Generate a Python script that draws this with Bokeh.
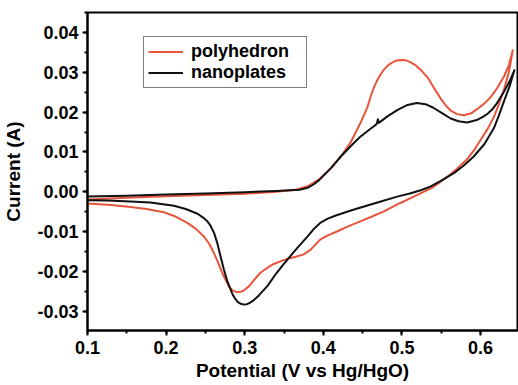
from bokeh.plotting import figure
from bokeh.models import Range1d, SingleIntervalTicker, NumeralTickFormatter, Legend, LegendItem
from bokeh.embed import file_html
from bokeh.resources import INLINE

# ---- data ----
# polyhedron: anodic (forward) branch
poly_fwd_x = [0.100, 0.150, 0.200, 0.250, 0.300, 0.340, 0.365, 0.380, 0.395, 0.410, 0.422, 0.435,
              0.447, 0.456, 0.460, 0.464, 0.468, 0.472, 0.476, 0.481, 0.485, 0.490, 0.495, 0.500,
              0.505, 0.510, 0.517, 0.524, 0.533, 0.541, 0.550, 0.556, 0.562, 0.570, 0.579, 0.588,
              0.596, 0.605, 0.613, 0.621, 0.630, 0.636, 0.641]
poly_fwd_y = [-0.0019, -0.0015, -0.0011, -0.0008, -0.0005, 0.0000, 0.0005, 0.0014, 0.0032, 0.0060,
              0.0088, 0.0125, 0.0172, 0.0212, 0.0238, 0.0260, 0.0278, 0.0292, 0.0304, 0.0315,
              0.0321, 0.0327, 0.0330, 0.0331, 0.0330, 0.0326, 0.0318, 0.0306, 0.0286, 0.0260,
              0.0232, 0.0216, 0.0204, 0.0195, 0.0192, 0.0197, 0.0208, 0.0222, 0.0238, 0.0260,
              0.0290, 0.0318, 0.0355]
# polyhedron: cathodic (return) branch
poly_rev_x = [0.641, 0.636, 0.630, 0.623, 0.617, 0.609, 0.600, 0.592, 0.583, 0.570, 0.558, 0.540,
              0.515, 0.498, 0.477, 0.462, 0.447, 0.430, 0.418, 0.405, 0.396, 0.390, 0.384, 0.375,
              0.365, 0.355, 0.346, 0.337, 0.330, 0.320, 0.312, 0.306, 0.300, 0.295, 0.2905,
              0.285, 0.280, 0.276, 0.2713, 0.266, 0.2607, 0.255, 0.248, 0.238, 0.227, 0.212,
              0.197, 0.175, 0.155, 0.130, 0.100]
poly_rev_y = [0.0355, 0.0300, 0.0258, 0.0218, 0.0188, 0.0158, 0.0130, 0.0105, 0.0082, 0.0058,
              0.0038, 0.0012, -0.0012, -0.0028, -0.0049, -0.0062, -0.0074, -0.0088, -0.0099,
              -0.0110, -0.0120, -0.0132, -0.0145, -0.0157, -0.0163, -0.0168, -0.0174, -0.0181,
              -0.0189, -0.0203, -0.0221, -0.0236, -0.0246, -0.0251, -0.0252, -0.0248, -0.0238,
              -0.0222, -0.0203, -0.0177, -0.0153, -0.0131, -0.0112, -0.0093, -0.0078, -0.0062,
              -0.0051, -0.0043, -0.0038, -0.0033, -0.0029]

# nanoplates: anodic (forward) branch
nano_fwd_x = [0.100, 0.150, 0.200, 0.250, 0.300, 0.340, 0.370, 0.380, 0.388, 0.395, 0.402, 0.410,
              0.422, 0.435, 0.447, 0.458, 0.466, 0.468, 0.4695, 0.4705, 0.474, 0.482, 0.494,
              0.507, 0.519, 0.530, 0.540, 0.552, 0.562, 0.572, 0.583, 0.595, 0.603, 0.609, 0.615,
              0.620, 0.630, 0.637, 0.643]
nano_fwd_y = [-0.0012, -0.0010, -0.0007, -0.0004, -0.0001, 0.0002, 0.0005, 0.0010, 0.0019, 0.0030,
              0.0044, 0.0060, 0.0088, 0.0115, 0.0138, 0.0155, 0.0167, 0.0171, 0.0182, 0.0173,
              0.0178, 0.0190, 0.0205, 0.0218, 0.0223, 0.0220, 0.0211, 0.0196, 0.0184, 0.0177,
              0.0174, 0.0180, 0.0188, 0.0196, 0.0207, 0.0220, 0.0252, 0.0278, 0.0305]
# nanoplates: cathodic (return) branch
nano_rev_x = [0.643, 0.637, 0.630, 0.623, 0.617, 0.605, 0.591, 0.578, 0.566, 0.550, 0.536, 0.524,
              0.510, 0.494, 0.472, 0.455, 0.435, 0.415, 0.405, 0.396, 0.388, 0.380, 0.365, 0.350,
              0.340, 0.329, 0.318, 0.312, 0.307, 0.303, 0.299, 0.295, 0.291, 0.287, 0.284, 0.278,
              0.2735, 0.269, 0.265, 0.261, 0.2565, 0.252, 0.248, 0.240, 0.225, 0.210, 0.180,
              0.155, 0.125, 0.100]
nano_rev_y = [0.0305, 0.0265, 0.0228, 0.0190, 0.0160, 0.0120, 0.0088, 0.0065, 0.0047, 0.0028,
              0.0013, 0.0004, -0.0004, -0.0012, -0.0025, -0.0035, -0.0047, -0.0060, -0.0068,
              -0.0078, -0.0093, -0.0112, -0.0145, -0.0180, -0.0205, -0.0236, -0.0260, -0.0271,
              -0.0278, -0.0282, -0.0283, -0.0281, -0.0276, -0.0266, -0.0255, -0.0225, -0.0195,
              -0.0160, -0.0128, -0.0103, -0.0085, -0.0073, -0.0066, -0.0055, -0.0043, -0.0035,
              -0.0027, -0.0024, -0.0022, -0.0021]

series_names = ["polyhedron", "nanoplates"]
x_label = "Potential (V vs Hg/HgO)"
y_label = "Current (A)"

FONT = "Liberation Sans"
RED = "#e6553b"
BLACK = "#111111"

p = figure(width=518, height=385, output_backend="svg", toolbar_location=None,
           x_range=Range1d(0.1, 0.647), y_range=Range1d(-0.0348, 0.045),
           min_border_left=87, min_border_right=1, min_border_top=12, min_border_bottom=55)
p.background_fill_color = "white"
p.border_fill_color = "white"
p.grid.visible = False
p.outline_line_color = "black"
p.outline_line_width = 2

r_poly = p.line(poly_fwd_x + poly_rev_x, poly_fwd_y + poly_rev_y, line_color=RED, line_width=2,
                line_join="round")
r_nano = p.line(nano_fwd_x + nano_rev_x, nano_fwd_y + nano_rev_y, line_color=BLACK, line_width=2,
                line_join="round")

p.xaxis.ticker = SingleIntervalTicker(interval=0.1, num_minor_ticks=2)
p.yaxis.ticker = SingleIntervalTicker(interval=0.01, num_minor_ticks=2)
p.xaxis.formatter = NumeralTickFormatter(format="0.0")
p.yaxis.formatter = NumeralTickFormatter(format="0.00")

for ax in (p.xaxis[0], p.yaxis[0]):
    ax.axis_line_width = 2
    ax.axis_line_color = "black"
    ax.major_tick_line_width = 2
    ax.minor_tick_line_width = 2
    ax.major_tick_out = 5
    ax.major_tick_in = 0
    ax.minor_tick_out = 3
    ax.minor_tick_in = 0
    ax.major_label_text_font = FONT
    ax.major_label_text_font_style = "bold"
    ax.major_label_text_font_size = "18px"
    ax.major_label_text_color = "black"
    ax.axis_label_text_font = FONT
    ax.axis_label_text_font_style = "bold"
    ax.axis_label_text_font_size = "19px"
    ax.axis_label_text_color = "black"

p.xaxis.axis_label = x_label
p.yaxis.axis_label = y_label
p.xaxis.major_label_standoff = 5
p.yaxis.major_label_standoff = 4
p.xaxis.axis_label_standoff = 3
p.yaxis.axis_label_standoff = 10

legend = Legend(items=[LegendItem(label=series_names[0], renderers=[r_poly]),
                       LegendItem(label=series_names[1], renderers=[r_nano])],
                location=(56, 242), padding=4, spacing=0, margin=0,
                glyph_width=35, glyph_height=21, label_height=21, label_width=111,
                label_standoff=8,
                label_text_font=FONT, label_text_font_style="bold",
                label_text_font_size="18px", label_text_color="black",
                border_line_color="black", border_line_width=1.5,
                background_fill_color="white", background_fill_alpha=1.0)
p.add_layout(legend, "center")

open("out.html", "w").write(file_html(p, INLINE))
